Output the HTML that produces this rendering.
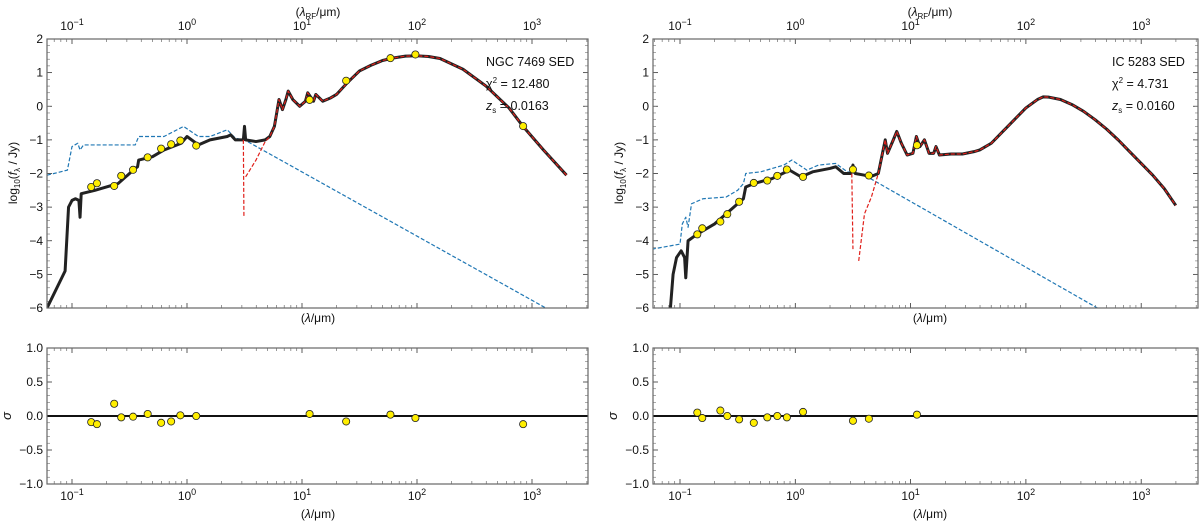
<!DOCTYPE html>
<html><head><meta charset="utf-8"><style>
html,body{margin:0;padding:0;background:#fff;}
svg{display:block;font-family:"Liberation Sans","DejaVu Sans",sans-serif;}
</style></head><body>
<svg id="fig" width="1200" height="525" viewBox="0 0 1200 525" xmlns="http://www.w3.org/2000/svg"></svg>
<script>
// ---------- NGC 7469 data (log10 wavelength, log10 flux) ----------
const ngcOptX=[-1.217,-1.06,-1.03,-1.0,-0.97,-0.94,-0.93,-0.92,-0.8,-0.6,-0.5,-0.45,-0.43,-0.42,-0.3,-0.2,-0.05,0.0,0.1,0.2,0.35,0.38,0.42,0.49,0.5,0.51,0.6,0.68];
const ngcOptY=[-6.0,-4.9,-3.0,-2.8,-2.75,-2.8,-3.3,-2.6,-2.5,-2.3,-2.0,-1.85,-1.8,-1.6,-1.5,-1.3,-1.1,-0.9,-1.15,-1.0,-0.9,-0.85,-1.0,-1.0,-0.6,-1.0,-1.05,-1.0];
const ngcIrX=[0.72,0.76,0.78,0.8,0.83,0.86,0.88,0.92,0.98,1.03,1.05,1.1,1.12,1.18,1.25,1.3,1.4,1.5,1.6,1.7,1.8,1.9,2.0,2.1,2.2,2.4,2.6,2.8,2.92,3.1,3.3];
const ngcIrY=[-0.9,-0.6,-0.2,0.2,-0.1,0.2,0.45,0.2,0.0,0.15,0.4,0.15,0.35,0.15,0.25,0.35,0.72,1.05,1.22,1.36,1.44,1.49,1.5,1.48,1.42,1.1,0.6,-0.05,-0.59,-1.3,-2.05];
const ngcStarX=[-1.217,-1.04,-1.0,-0.95,-0.93,-0.9,-0.45,-0.42,-0.2,-0.03,0.1,0.2,0.35,0.42,0.5,3.12];
const ngcStarY=[-2.05,-1.9,-1.2,-1.1,-1.3,-1.15,-1.15,-0.9,-0.9,-0.6,-0.9,-0.9,-0.7,-0.95,-1.0,-6.0];
const ngcDustAX=[0.49,0.495];
const ngcDustAY=[-1.0,-3.3];
const ngcDustBX=[0.51,0.6,0.68];
const ngcDustBY=[-2.1,-1.6,-1.05];
const ngcObsX=[-0.833,-0.783,-0.633,-0.572,-0.469,-0.342,-0.225,-0.138,-0.058,0.080,1.066,1.384,1.769,1.986,2.923];
const ngcObsY=[-2.40,-2.29,-2.37,-2.07,-1.89,-1.52,-1.26,-1.13,-1.02,-1.17,0.19,0.76,1.43,1.54,-0.59];
const ngcResid=[-0.09,-0.12,0.18,-0.02,-0.01,0.03,-0.10,-0.08,0.01,0.0,0.03,-0.08,0.02,-0.03,-0.12];

// ---------- IC 5283 data ----------
const icOptX=[-1.083,-1.06,-1.03,-0.99,-0.96,-0.95,-0.93,-0.85,-0.7,-0.6,-0.5,-0.45,-0.43,-0.36,-0.2,-0.05,0.05,0.15,0.3,0.35,0.42,0.48,0.5,0.52,0.6,0.65];
const icOptY=[-6.0,-5.0,-4.5,-4.3,-4.5,-5.1,-4.0,-3.8,-3.5,-3.2,-2.9,-2.75,-2.4,-2.3,-2.15,-1.9,-2.1,-1.95,-1.85,-1.8,-2.0,-2.0,-1.75,-2.0,-2.05,-2.1];
const icIrX=[0.72,0.75,0.78,0.8,0.85,0.88,0.92,0.97,1.02,1.05,1.08,1.12,1.16,1.2,1.22,1.25,1.35,1.45,1.55,1.6,1.7,1.8,1.9,2.0,2.1,2.15,2.2,2.3,2.4,2.5,2.6,2.7,2.8,2.9,3.0,3.1,3.2,3.3];
const icIrY=[-2.0,-1.5,-1.0,-1.4,-1.0,-0.75,-1.1,-1.45,-1.4,-0.9,-1.2,-1.0,-1.4,-1.4,-1.2,-1.45,-1.42,-1.42,-1.35,-1.3,-1.1,-0.75,-0.4,-0.05,0.2,0.28,0.27,0.2,0.05,-0.15,-0.4,-0.68,-1.0,-1.35,-1.7,-2.05,-2.45,-2.95];
const icStarX=[-1.244,-1.0,-0.98,-0.95,-0.93,-0.9,-0.8,-0.6,-0.5,-0.45,-0.43,-0.3,-0.1,-0.03,0.1,0.2,0.35,0.45,0.6,2.62];
const icStarY=[-4.25,-4.1,-3.5,-3.3,-3.6,-2.9,-2.75,-2.7,-2.5,-2.3,-2.0,-1.95,-1.75,-1.6,-1.9,-1.75,-1.7,-1.95,-2.05,-6.0];
const icDustAX=[0.49,0.50];
const icDustAY=[-2.0,-4.25];
const icDustBX=[0.55,0.6,0.66];
const icDustBY=[-4.6,-3.2,-2.7];
const icObsX=[-0.850,-0.807,-0.650,-0.590,-0.487,-0.360,-0.243,-0.156,-0.073,0.067,0.500,0.638,1.055];
const icObsY=[-3.81,-3.63,-3.43,-3.21,-2.84,-2.28,-2.21,-2.07,-1.88,-2.10,-1.88,-2.06,-1.16];
const icResid=[0.05,-0.03,0.08,0.0,-0.05,-0.1,-0.02,0.0,-0.02,0.06,-0.07,-0.04,0.02];

const xTickLogs=[-1,0,1,2,3];
const yTopTicks=[2,1,0,-1,-2,-3,-4,-5,-6];
const yBotTicks=[1.0,0.5,0.0,-0.5,-1.0];

const NS="http://www.w3.org/2000/svg";
const svg=document.getElementById('fig');
function mk(tag,attrs,parent){const e=document.createElementNS(NS,tag);for(const k in attrs)e.setAttribute(k,attrs[k]);(parent||svg).appendChild(e);return e;}
function fmt(v){return (v<0?'\u2212':'')+Math.abs(v);}
function fmt1(v){return (v<0?'\u2212':'')+Math.abs(v).toFixed(1);}

function panel(cfg){
  const g=mk('g',{});
  
  
  const X=l=>cfg.x0+(l+1)*cfg.dec;
  const top={y0:39,y1:308,vmin:-6,vmax:2};
  const bot={y0:348,y1:484,vmin:-1,vmax:1};
  const YT=v=>top.y1-(v-top.vmin)/(top.vmax-top.vmin)*(top.y1-top.y0);
  const YB=v=>bot.y1-(v-bot.vmin)/(bot.vmax-bot.vmin)*(bot.y1-bot.y0);
  const L=cfg.left,R=cfg.right;
  const minors=[];
  for(let d=-2;d<=3;d++)for(let m=2;m<=9;m++){const l=d+Math.log10(m);const px=X(l);if(px>L&&px<R)minors.push(px);}
  [[top,YT,'top'],[bot,YB,'bottom']].forEach(([ax,Y,nm])=>{
    const a=mk('g',{},g);
    
    
    const cp='clip-'+cfg.name+'-'+nm;
    const cl=mk('clipPath',{id:cp},a);mk('rect',{x:L,y:ax.y0,width:R-L,height:ax.y1-ax.y0},cl);
    xTickLogs.forEach(l=>{const px=X(l);if(px<L||px>R)return;
      mk('line',{x1:px,x2:px,y1:ax.y1,y2:ax.y1-5,stroke:'#333','stroke-width':0.8},a);
      mk('line',{x1:px,x2:px,y1:ax.y0,y2:ax.y0+5,stroke:'#333','stroke-width':0.8},a);});
    minors.forEach(px=>{mk('line',{x1:px,x2:px,y1:ax.y1,y2:ax.y1-3,stroke:'#555','stroke-width':0.6},a);
      mk('line',{x1:px,x2:px,y1:ax.y0,y2:ax.y0+3,stroke:'#555','stroke-width':0.6},a);});
    const yt=nm==='top'?yTopTicks:yBotTicks;
    yt.forEach(v=>{const py=Y(v);
      mk('line',{x1:L,x2:L+5,y1:py,y2:py,stroke:'#333','stroke-width':0.8},a);
      mk('line',{x1:R,x2:R-5,y1:py,y2:py,stroke:'#333','stroke-width':0.8},a);
      const t=mk('text',{x:L-4,y:py+4,'text-anchor':'end','font-size':12,fill:'#111'},a);
      t.textContent=nm==='top'?fmt(v):fmt1(v);
      
      });
    const step=nm==='top'?0.2:0.1;
    for(let v=ax.vmin;v<=ax.vmax+1e-6;v+=step){const py=Y(v);
      mk('line',{x1:L,x2:L+3,y1:py,y2:py,stroke:'#555','stroke-width':0.5},a);
      mk('line',{x1:R,x2:R-3,y1:py,y2:py,stroke:'#555','stroke-width':0.5},a);}
    const pl=mk('g',{'clip-path':'url(#'+cp+')'},a);
    if(nm==='top'){
      const line=(xs,ys,st,name)=>{const p=mk('polyline',Object.assign({points:xs.map((x,i)=>X(x)+','+Y(ys[i])).join(' '),fill:'none','stroke-linejoin':'round'},st),pl);
        };
      line(cfg.starX,cfg.starY,{stroke:'#1f77b4','stroke-width':1.2,'stroke-dasharray':'4,2'},'stellar-unattenuated-line');
      line(cfg.optX.concat(cfg.irX),cfg.optY.concat(cfg.irY),{stroke:'#222','stroke-width':3},'total-model-line');
      line(cfg.dAX,cfg.dAY,{stroke:'#e0201b','stroke-width':1.2,'stroke-dasharray':'4,2'},'dust-emission-line');
      line(cfg.dBX.concat(cfg.irX),cfg.dBY.concat(cfg.irY),{stroke:'#e0201b','stroke-width':1.2,'stroke-dasharray':'4,2'},'dust-emission-line');
      cfg.obsX.forEach((x,i)=>{const c=mk('circle',{cx:X(x),cy:Y(cfg.obsY[i]),r:3.6,fill:'#ffee00',stroke:'#222','stroke-width':0.8},pl);
        });
      xTickLogs.forEach(l=>{const px=X(l);
        const t=mk('text',{x:px,y:30,'text-anchor':'middle','font-size':12,fill:'#111'},a);
        t.innerHTML='10<tspan dy="-5" font-size="9">'+(l<0?'\u2212':'')+Math.abs(l)+'</tspan>';
        });
      const tl=mk('text',{x:cfg.rfX,y:16,'text-anchor':'middle','font-size':12,fill:'#111'},a);
      tl.innerHTML='(<tspan font-style="italic">λ</tspan><tspan font-size="8" dy="3">RF</tspan><tspan dy="-3">/μm)</tspan>';
      
      const xl=mk('text',{x:cfg.rfX,y:322,'text-anchor':'middle','font-size':12,fill:'#111'},a);
      xl.innerHTML='(<tspan font-style="italic">λ</tspan>/μm)';
      
      const yl=mk('text',{x:0,y:0,'text-anchor':'middle','font-size':12,fill:'#111',transform:'translate('+(L-30)+',173) rotate(-90)'},a);
      yl.innerHTML='log<tspan font-size="8" dy="3">10</tspan><tspan dy="-3">(</tspan><tspan font-style="italic">f</tspan><tspan font-size="8" dy="3">λ</tspan><tspan dy="-3"> / Jy)</tspan>';
      
      const ann=[cfg.title,'χ<tspan dy="-5" font-size="8">2</tspan><tspan dy="5"> = '+cfg.chi+'</tspan>','<tspan font-style="italic">z</tspan><tspan font-size="8" dy="3">s</tspan><tspan dy="-3"> = '+cfg.z+'</tspan>'];
      ann.forEach((s,i)=>{const t=mk('text',{x:cfg.annX,y:66+i*22,'font-size':12.5,fill:'#111'},a);t.innerHTML=s;
        });
    } else {
      mk('line',{x1:L,x2:R,y1:Y(0),y2:Y(0),stroke:'#111','stroke-width':2},pl);
      cfg.obsX.forEach((x,i)=>{const c=mk('circle',{cx:X(x),cy:Y(cfg.resid[i]),r:3.6,fill:'#ffee00',stroke:'#222','stroke-width':0.8},pl);
        });
      xTickLogs.forEach(l=>{const px=X(l);
        const t=mk('text',{x:px,y:500,'text-anchor':'middle','font-size':12,fill:'#111'},a);
        t.innerHTML='10<tspan dy="-5" font-size="9">'+(l<0?'\u2212':'')+Math.abs(l)+'</tspan>';
        });
      const xl=mk('text',{x:cfg.rfX,y:518,'text-anchor':'middle','font-size':12,fill:'#111'},a);
      xl.innerHTML='(<tspan font-style="italic">λ</tspan>/μm)';
      
      const sl=mk('text',{x:0,y:0,'text-anchor':'middle','font-size':13,'font-style':'italic',fill:'#111',transform:'translate('+(L-36)+',416) rotate(-90)'},a);
      sl.textContent='σ';
      
    }
    mk('rect',{x:L,y:ax.y0,width:R-L,height:ax.y1-ax.y0,fill:'none',stroke:'#666','stroke-width':1.2},a);
  });
}
panel({name:'ngc7469',x0:72,dec:115,left:47,right:588,rfX:318,annX:486,title:'NGC 7469 SED',chi:'12.480',z:'0.0163',
  optX:ngcOptX,optY:ngcOptY,irX:ngcIrX,irY:ngcIrY,starX:ngcStarX,starY:ngcStarY,dAX:ngcDustAX,dAY:ngcDustAY,dBX:ngcDustBX,dBY:ngcDustBY,obsX:ngcObsX,obsY:ngcObsY,resid:ngcResid});
panel({name:'ic5283',x0:680,dec:115.3,left:653,right:1198,rfX:930,annX:1112,title:'IC 5283 SED',chi:'4.731',z:'0.0160',
  optX:icOptX,optY:icOptY,irX:icIrX,irY:icIrY,starX:icStarX,starY:icStarY,dAX:icDustAX,dAY:icDustAY,dBX:icDustBX,dBY:icDustBY,obsX:icObsX,obsY:icObsY,resid:icResid});
</script>
</body></html>
